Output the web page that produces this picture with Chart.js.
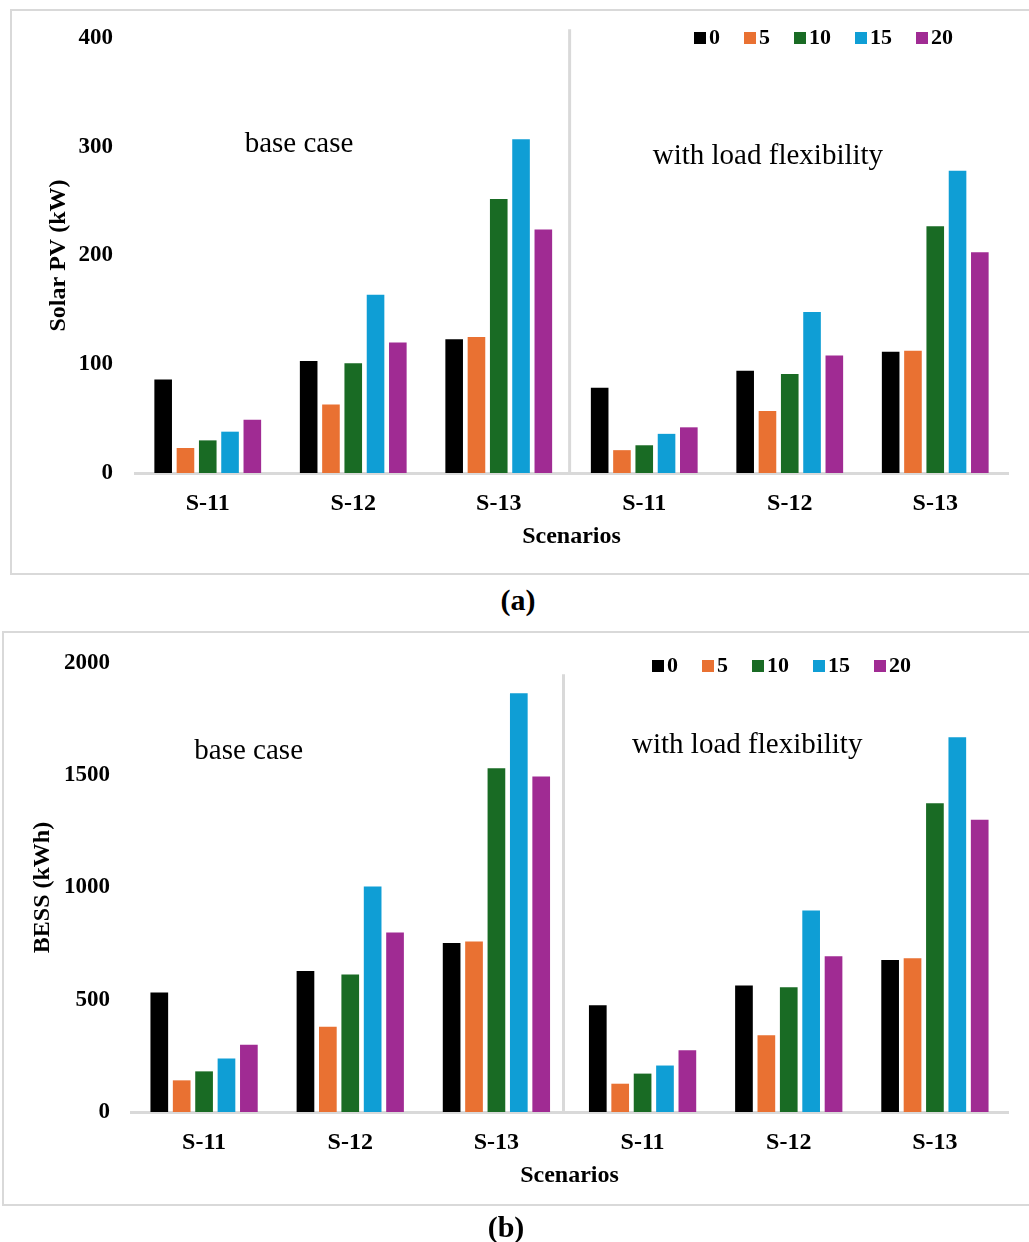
<!DOCTYPE html>
<html>
<head>
<meta charset="utf-8">
<title>Solar PV and BESS sizing</title>
<script src="https://cdn.jsdelivr.net/npm/chart.js@4.4.1/dist/chart.umd.min.js"></script>
<style>
  html, body { margin: 0; padding: 0; background: #fff; }
  body { width: 1029px; height: 1242px; position: relative; overflow: hidden;
         font-family: 'Liberation Serif', 'Times New Roman', serif; }
  .frame { position: absolute; box-sizing: border-box; border: 2px solid #d9d9d9; }
  #frameA { left: 10px; top: 9px; width: 1040px; height: 566px; }
  #frameB { left: 2px; top: 631px; width: 1050px; height: 575px; }
  canvas { position: absolute; left: 0; }
  #pvChart { top: 0; }
  #bessChart { top: 620px; }
  .caption { position: absolute; font-weight: bold; font-size: 30px; line-height: 1;
             transform: translate(-50%, -50%); color: #000; }
</style>
</head>
<body>
<div class="frame" id="frameA"></div>
<div class="frame" id="frameB"></div>
<canvas id="pvChart" width="1029" height="580"></canvas>
<canvas id="bessChart" width="1029" height="600"></canvas>
<div class="caption" style="left:518px; top:600px;">(a)</div>
<div class="caption" style="left:506px; top:1227px;">(b)</div>

<script>
// scenarios: first three are the base case, last three with load flexibility
const scenarios = ['S-11', 'S-12', 'S-13', 'S-11', 'S-12', 'S-13'];
const levels = ['0', '5', '10', '15', '20'];
const levelColors = ['#000000', '#E97132', '#196B24', '#0F9ED5', '#A02B93'];

// Solar PV size (kW)
const pv0  = [86, 103, 123, 78.5, 94, 111.5];
const pv5  = [23, 63, 125, 21, 57, 112.5];
const pv10 = [30, 101, 252, 25.5, 91, 227];
const pv15 = [38, 164, 307, 36, 148, 278];
const pv20 = [49, 120, 224, 42, 108, 203];
const pvTicks = [0, 100, 200, 300, 400];

// BESS size (kWh)
const bess0  = [532, 628, 753, 475, 563, 677];
const bess5  = [141, 380, 760, 126, 342, 685];
const bess10 = [181, 613, 1531, 171, 556, 1375];
const bess15 = [238, 1004, 1865, 207, 897, 1669];
const bess20 = [300, 799, 1494, 275, 694, 1302];
const bessTicks = [0, 500, 1000, 1500, 2000];

Chart.defaults.font.family = "'Liberation Serif', 'Times New Roman', serif";
Chart.defaults.color = '#000';

// legend swatch: square pushed to the right side so it sits close to its text
function swatch(color) {
  const c = document.createElement('canvas');
  c.width = 27;
  c.height = 12;
  const g = c.getContext('2d');
  g.fillStyle = color;
  g.fillRect(15, 0, 12, 12);
  return c;
}
const swatches = levelColors.map(swatch);

// divider line, case labels and legend placement for one panel
function panelDecor(notes, divider, legendShift) {
  return {
    id: 'panelDecor',
    afterLayout(chart) {
      const lg = chart.legend;
      lg.left += legendShift[0];
      lg.right += legendShift[0];
      lg.top += legendShift[1];
      lg.bottom += legendShift[1];
    },
    afterDatasetsDraw(chart) {
      const { ctx, scales: { x, y } } = chart;
      ctx.save();
      const sx = x.getPixelForValue(divider.at);
      ctx.strokeStyle = '#d9d9d9';
      ctx.lineWidth = 3;
      ctx.beginPath();
      ctx.moveTo(sx, y.getPixelForValue(divider.top));
      ctx.lineTo(sx, y.getPixelForValue(0));
      ctx.stroke();
      ctx.font = "29px 'Liberation Serif', 'Times New Roman', serif";
      ctx.fillStyle = '#000';
      ctx.textAlign = 'center';
      ctx.textBaseline = 'alphabetic';
      notes.forEach(n => ctx.fillText(n.text, x.getPixelForValue(n.at), y.getPixelForValue(n.value)));
      ctx.restore();
    }
  };
}

function buildChart(id, series, ticks, yTitle, opt) {
  const tickFont = { size: 23, weight: 'bold' };
  const labelFont = { size: 24, weight: 'bold' };
  return new Chart(document.getElementById(id), {
    type: 'bar',
    data: {
      labels: scenarios,
      datasets: series.map((vals, i) => ({
        label: levels[i],
        data: vals,
        backgroundColor: levelColors[i],
        borderWidth: 0,
        categoryPercentage: 0.766,
        barPercentage: 0.79
      }))
    },
    options: {
      responsive: false,
      animation: false,
      events: [],
      layout: { padding: { top: 0, right: 21, bottom: opt.padBottom, left: 0 } },
      plugins: {
        tooltip: { enabled: false },
        legend: {
          position: 'top',
          align: 'end',
          maxHeight: opt.legendHeight,
          labels: {
            boxWidth: 11, boxHeight: 11, padding: 17, color: '#000',
            usePointStyle: true,
            font: { size: 22, weight: 'bold' },
            generateLabels: chart =>
              Chart.defaults.plugins.legend.labels.generateLabels(chart)
                .map((item, i) => Object.assign(item, { pointStyle: swatches[i] }))
          }
        }
      },
      scales: {
        x: {
          grid: { display: false, drawTicks: false },
          border: { display: true, color: '#d9d9d9', width: 3 },
          ticks: { color: '#000', font: labelFont, padding: 16, maxRotation: 0, autoSkip: false },
          title: { display: true, text: 'Scenarios', color: '#000', font: labelFont,
                   padding: { top: 0, bottom: 4 } },
          afterFit: s => { s.height = 82; }
        },
        y: {
          min: ticks[0],
          max: ticks[ticks.length - 1],
          grid: { display: false, drawTicks: false },
          border: { display: false },
          ticks: { color: '#000', font: tickFont, padding: opt.tickPad, callback: v => String(v) },
          afterBuildTicks: s => { s.ticks = ticks.map(v => ({ value: v })); },
          title: { display: true, text: yTitle, color: '#000', font: labelFont,
                   padding: { top: opt.titlePad, bottom: 0 } },
          afterFit: s => { s.width = opt.yWidth; }
        }
      }
    },
    plugins: [panelDecor(opt.notes, opt.divider, opt.legendShift)]
  });
}

buildChart('pvChart', [pv0, pv5, pv10, pv15, pv20], pvTicks, 'Solar PV (kW)', {
  padBottom: 25, legendHeight: 38, tickPad: 22, titlePad: 44, yWidth: 135,
  legendShift: [-38, 10],
  divider: { at: 2.487, top: 408 },
  notes: [
    { text: 'base case', at: 0.627, value: 295 },
    { text: 'with load flexibility', at: 3.85, value: 284 }
  ]
});

buildChart('bessChart', [bess0, bess5, bess10, bess15, bess20], bessTicks, 'BESS (kWh)', {
  padBottom: 26, legendHeight: 43, tickPad: 21, titlePad: 28, yWidth: 131,
  legendShift: [-80, 18],
  divider: { at: 2.459, top: 1950 },
  notes: [
    { text: 'base case', at: 0.305, value: 1572 },
    { text: 'with load flexibility', at: 3.716, value: 1598 }
  ]
});
</script>
</body>
</html>
